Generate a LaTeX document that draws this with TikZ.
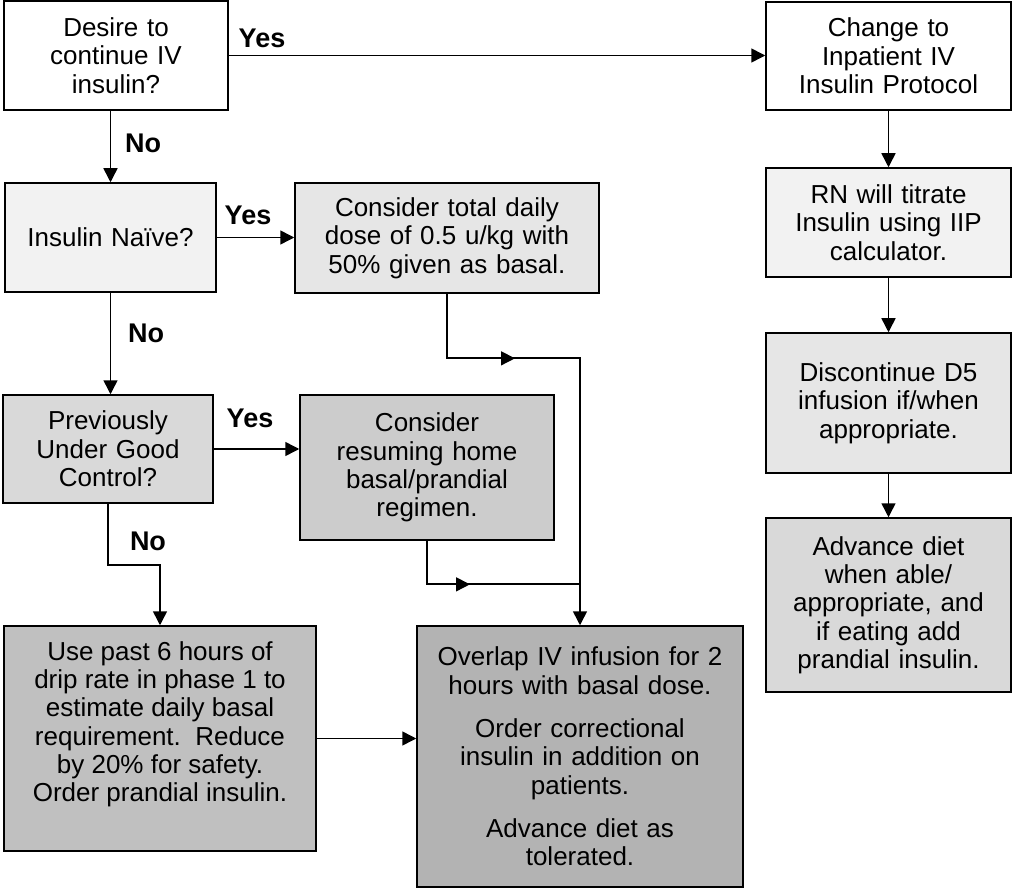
\documentclass[tikz,border=0pt]{standalone}
\usepackage{fontspec}
\setmainfont{Liberation Sans}
\usetikzlibrary{arrows.meta,calc}
\definecolor{gA}{HTML}{F2F2F2}
\definecolor{gB}{HTML}{E6E6E6}
\definecolor{gC}{HTML}{D9D9D9}
\definecolor{gD}{HTML}{CCCCCC}
\definecolor{gE}{HTML}{C0C0C0}
\definecolor{gF}{HTML}{B3B3B3}
\begin{document}
\begin{tikzpicture}[x=1pt,y=-1pt,
  box/.style={draw=black, line width=1.5pt, inner sep=0pt, align=center,
    font=\fontsize{26}{28.3}\selectfont},
  topbox/.style={draw=black, line width=1.5pt, inner sep=0pt,
    font=\fontsize{26}{28.3}\selectfont},
  lbl/.style={font=\bfseries\fontsize{27}{30}\selectfont, inner sep=0pt},
  arr/.style={line width=1.5pt, -{Triangle[length=14pt,width=14pt]}},
  ln/.style={line width=1.5pt}]
\useasboundingbox (0,0) rectangle (1014,890);

% left / middle column
\node[box, fill=white, minimum width=224pt, minimum height=109pt, text width=214pt] (A) at (116,55.5)
  {Desire to\\continue IV\\insulin?};
\node[box, fill=gA, minimum width=211pt, minimum height=109pt, text width=200pt] (C) at (110.5,237.5)
  {Insulin Naïve?};
\node[box, fill=gB, minimum width=304pt, minimum height=110pt, text width=294pt] (D) at (447,238)
  {Consider total daily\\dose of 0.5 u/kg with\\50\% given as basal.};
\node[box, fill=gC, minimum width=210pt, minimum height=108pt, text width=200pt] (E) at (108,449)
  {Previously\\Under Good\\Control?};
\node[box, fill=gD, minimum width=254pt, minimum height=145pt, text width=244pt] (F) at (427,467.5)
  {Consider\\resuming home\\basal/prandial\\regimen.};
\node[topbox, fill=gE] (G) at (160,738.5)
  {\parbox[c][225pt][t]{312pt}{\centering\vspace*{14.5pt}\strut Use past 6 hours of\\drip rate in phase 1 to\\estimate daily basal\\requirement.\ \ Reduce\\by 20\% for safety.\\Order prandial insulin.}};
\node[box, fill=gF, minimum width=326pt, minimum height=261pt, text width=316pt] (H) at (580,756.5)
  {Overlap IV infusion for 2\\hours with basal dose.\\[15pt]Order correctional\\insulin in addition on\\patients.\\[15pt]Advance diet as\\tolerated.};

% right column
\node[box, fill=white, minimum width=245pt, minimum height=108pt, text width=235pt] (B) at (888.5,56)
  {Change to\\Inpatient IV\\Insulin Protocol};
\node[box, fill=gA, minimum width=245pt, minimum height=109pt, text width=235pt] (I) at (888.5,222.5)
  {RN will titrate\\Insulin using IIP\\calculator.};
\node[box, fill=gB, minimum width=245pt, minimum height=140pt, text width=235pt] (J) at (888.5,403)
  {Discontinue D5\\infusion if/when\\appropriate.};
\node[box, fill=gC, minimum width=245pt, minimum height=174pt, text width=235pt] (K) at (888.5,605)
  {Advance diet\\when able/\\appropriate, and\\if eating add\\prandial insulin.};

% labels
\node[lbl] (y1) at (262,38) {Yes};
\node[lbl] (n1) at (143,143) {No};
\node[lbl] (y2) at (248,215) {Yes};
\node[lbl] (n2) at (146,333) {No};
\node[lbl] (y3) at (250,418) {Yes};
\node[lbl] (n3) at (148,541) {No};

% connectors
\draw[arr] (A.east) -- (A.east -| B.west);
\draw[arr] (C.north |- A.south) -- (C.north);
\draw[arr] (C.east) -- (C.east -| D.west);
\draw[arr] (C.south) -- (C.south |- E.north);
\draw[arr] (E.east) -- (E.east -| F.west);
\draw[arr] (E.south) -- ++(0,61) -| (G.north);
\draw[arr] (G.east) -- (G.east -| H.west);
\draw[arr] (D.south) -- ++(0,64) coordinate (dj) -- (dj -| H.north) -- (H.north);
\draw[ln] (F.south) -- ++(0,43) coordinate (fj) -- (fj -| H.north);
\draw[arr] ($(dj)+(31,0.6)$) -- ($(dj)+(68,0.6)$);
\draw[arr] ($(fj)+(10,0.6)$) -- ($(fj)+(43,0.6)$);
\draw[arr] (B.south) -- (I.north);
\draw[arr] (I.south) -- (J.north);
\draw[arr] (J.south) -- (K.north);
\end{tikzpicture}
\end{document}
